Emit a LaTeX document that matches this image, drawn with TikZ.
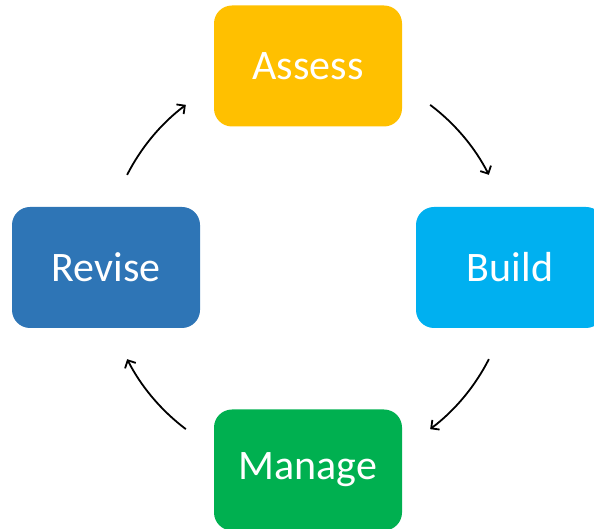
\documentclass[tikz,border=0pt]{standalone}
\usepackage{fontspec}
\setmainfont{Carlito}
\usetikzlibrary{arrows.meta,calc}
\definecolor{cassess}{HTML}{FFC000}
\definecolor{cbuild}{HTML}{00B0F0}
\definecolor{crevise}{HTML}{2E75B6}
\definecolor{cmanage}{HTML}{00B050}
\tikzset{
  stepbox/.style={rectangle, rounded corners=18pt, minimum width=188pt, minimum height=121pt,
    inner sep=0pt, text=white, font=\fontsize{42}{48}\selectfont},
  cyclearrow/.style={line width=1.8pt, -{Straight Barb[length=6pt,width=12pt,line width=1.8pt]}}
}
\begin{document}
\begin{tikzpicture}[x=1pt,y=1pt]
\useasboundingbox (0,0) rectangle (594,529);
\clip (0,0) rectangle (594,529);
\node[stepbox, fill=cassess] (assess) at (308,463) {Assess};
\node[stepbox, fill=cbuild] (build) at (510,261.5) {Build};
\node[stepbox, fill=crevise] (revise) at (106,261.5) {Revise};
\node[stepbox, fill=cmanage] (manage) at (308,59) {Manage};
\coordinate (C) at (308,262);
\coordinate (a1) at ($(C)+(53:203)$);
\coordinate (a2) at ($(C)+(-27:203)$);
\coordinate (a3) at ($(C)+(233:203)$);
\coordinate (a4) at ($(C)+(153:203)$);
\draw[cyclearrow] (a1) arc[start angle=53, end angle=27, radius=203];
\draw[cyclearrow] (a2) arc[start angle=-27, end angle=-53, radius=203];
\draw[cyclearrow] (a3) arc[start angle=233, end angle=207, radius=203];
\draw[cyclearrow] (a4) arc[start angle=153, end angle=127, radius=203];
\end{tikzpicture}
\end{document}
